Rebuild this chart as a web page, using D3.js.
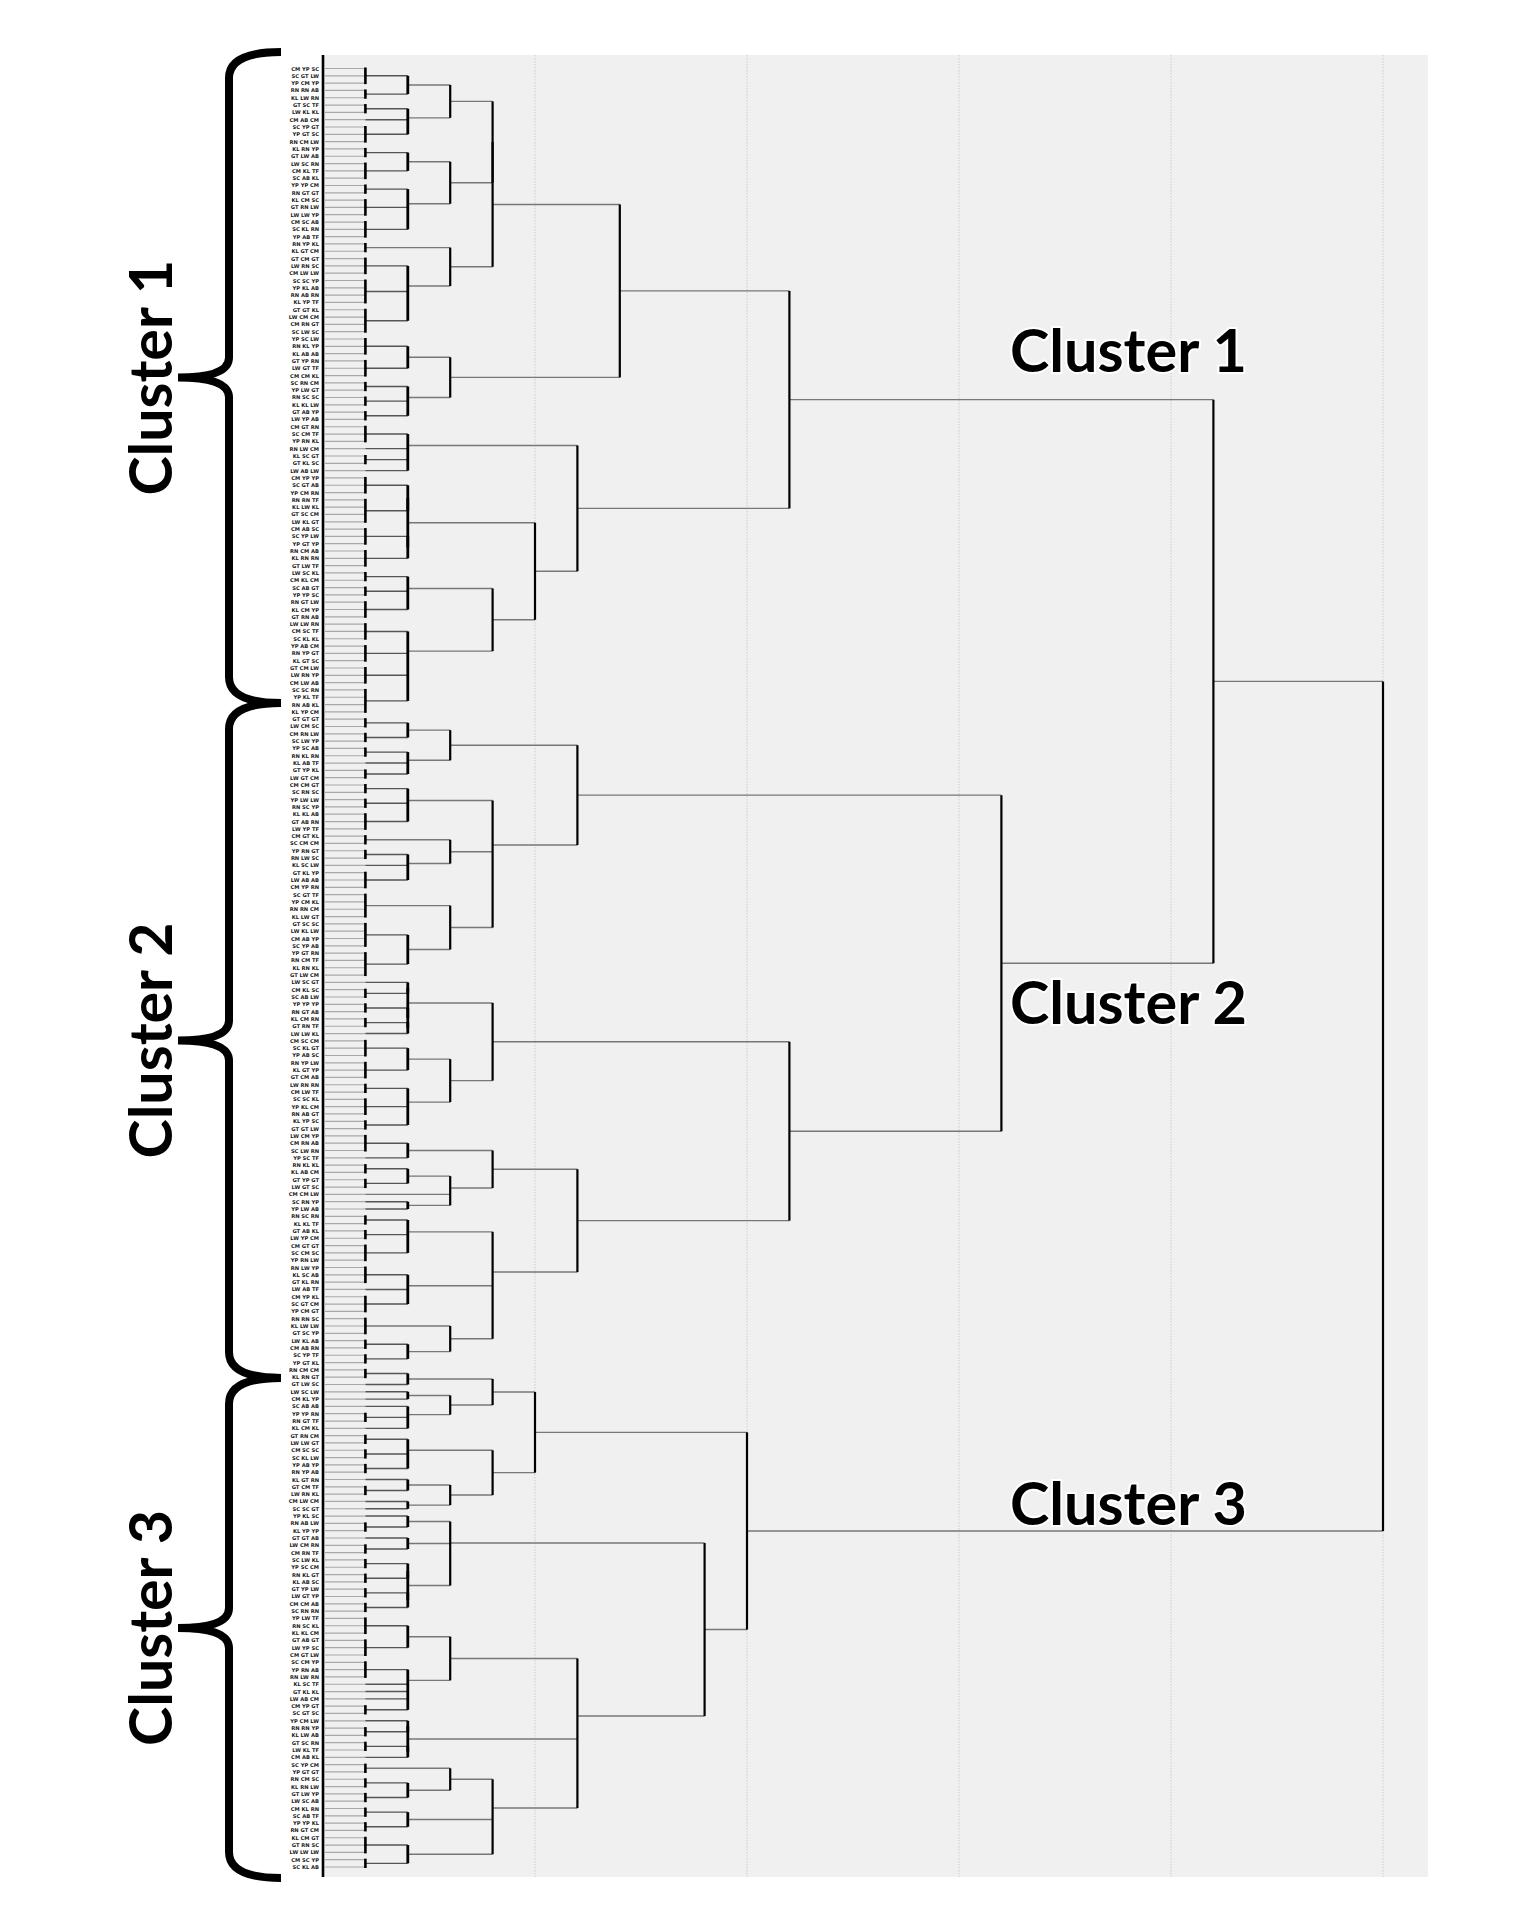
<!DOCTYPE html>
<html><head><meta charset="utf-8">
<script src="https://cdn.jsdelivr.net/npm/d3@7"></script>
<style>body{margin:0;background:#fff}</style>
</head><body>
<svg id="chart" width="1532" height="1932"></svg>
<script>
// ---------------- DATA ----------------
// Node format: [mergeHeight, child, child, ...]; a number = group of n near-identical leaves
const groupHeight = 0.2;
const cluster1 = [2.2,
  [1.4,
    [0.8,
      [0.8, [0.6, [0.4,3,2], [0.4,2,1,3]], [0.6, [0.4,2,3], [0.4,2,3,3]]],
      [0.6, 2, [0.4,3,4,4]]],
    [0.6, [0.4,3,3], [0.4,2,2,2]]],
  [1.2, [0.4,3,1,2,1],
    [1.0, [0.4,[0.4,3,4],[0.4,3,3]], [0.8, [0.4,2,2,3], [0.4,3,3,3,4]]]]];
const cluster2 = [3.2,
  [1.2, [0.6, [0.4,2,2], [0.4,2,1,2]],
        [0.8, [0.4,2,2,3], [0.6, 2, [0.4,2,1,3]], [0.6, 4, [0.4,4,4]]]],
  [2.2,
    [0.8, [0.4,[0.4,1,2],[0.4,2,[0.4,2,1]]], [0.6, [0.4,3,3], [0.4,2,3,2]]],
    [1.2, [0.8, [0.4,3,1], [0.6, [0.4,2,2], 1, [0.4,1,1]]],
          [0.8, [0.4,2,2,3], [0.4,3,1,3], [0.6, 3, [0.4,2,2]]]]]];
const cluster3 = [2.0,
  [1.0, [0.8, [0.4,2,1], [0.6, [0.4,1,1], [0.4,1,2,1]]],
        [0.8, [0.4,2,2,2], [0.6, [0.4,1,2], [0.4,1,1]]]],
  [1.8, [0.6, [0.4,1,2], [0.4,1,2], [0.4,[0.4,2,2],[0.4,2,2]]],
        [1.2, [0.6, [0.4,3,3], [0.4,3,1,1,1,2]],
              [0.4,[0.4,1,2],[0.4,2,1]],
              [0.8, [0.6, 2, [0.4,2,2]], [0.4,2,2], [0.4,3,2]]]]];
const topMerges = [4.2, 5.0];           // (cluster1+cluster2), then +cluster3
const clusterNames = ["Cluster 1", "Cluster 2", "Cluster 3"];
const axisTicks = [0, 1, 2, 3, 4, 5];
const bracketBounds = [-2.25, 86.8, 179.1, 247.5]; // leaf-index units
const labelTokens = ["CM","SC","YP","RN","KL","GT","LW","AB","TF"];

// ---------------- LAYOUT ----------------
const root = [topMerges[1], [topMerges[0], cluster1, cluster2], cluster3];
function count(n){ return typeof n === "number" ? n : n.slice(1).reduce((s,c)=>s+count(c),0); }
const nLeaves = count(root);

const svg = d3.select("#chart");
const x = d3.scaleLinear().domain([0,5]).range([323,1383]);
const y = d3.scaleLinear().domain([0,nLeaves-1]).range([68.5,1867]);

let leafCounter = 0;
const groups = [], nodes = [];
function layout(node){
  if (typeof node === "number"){
    const s = leafCounter; leafCounter += node; const e = leafCounter-1;
    const g = {h: node>1 ? groupHeight : 0, y:(y(s)+y(e))/2, y0:y(s), y1:y(e), n:node, leaf:true};
    if (node>1) groups.push(g);
    return g;
  }
  const kids = node.slice(1).map(layout);
  let yy = kids[kids.length-1].y;
  for (let i=kids.length-2;i>=0;i--) yy = (kids[i].y+yy)/2;
  const o = {h:node[0], y:yy, kids};
  nodes.push(o);
  return o;
}
const rootNode = layout(root);
const c12 = rootNode.kids[0];
const clusterNodes = [c12.kids[0], c12.kids[1], rootNode.kids[1]];

// ---------------- DRAW ----------------
// panel
svg.append("rect").attr("x",x(0)+1).attr("y",55).attr("width",1428-x(0)-1).attr("height",1877-55).attr("fill","#f0f0f0");
// gridlines
svg.append("g").selectAll("line").data(axisTicks.filter(d=>d>0)).join("line")
  .attr("x1",d=>x(d)).attr("x2",d=>x(d)).attr("y1",55).attr("y2",1877)
  .attr("stroke","#d4d4d4").attr("stroke-width",1.3).attr("stroke-dasharray","1.5,1.5");

// leaf lines
const leafIdx = d3.range(nLeaves);
svg.append("g").selectAll("line").data(leafIdx).join("line")
  .attr("x1",x(0)+2).attr("x2",x(groupHeight)).attr("y1",d=>y(d)).attr("y2",d=>y(d))
  .attr("stroke","#a8a8a8").attr("stroke-width",1.2);

// leaf labels
svg.append("g").selectAll("text").data(leafIdx).join("text")
  .attr("x",x(0)-4).attr("y",d=>y(d)+2).attr("text-anchor","end")
  .attr("font-family","DejaVu Sans").attr("font-weight","bold").attr("font-size",5.2).attr("fill","#222")
  .text(d=>labelTokens[d%7]+" "+labelTokens[(d*3+2)%8]+" "+labelTokens[(d*5+1)%9]);

// horizontals
const hSegs = [];
nodes.forEach(n=>n.kids.forEach(k=>{
  const x0 = x(Math.max(k.h, groupHeight));
  if (k.h < n.h) hSegs.push({x0, x1:x(n.h), y:k.y, low:n.h<=0.4});
}));
svg.append("g").selectAll("line").data(hSegs).join("line")
  .attr("x1",d=>d.x0).attr("x2",d=>d.x1).attr("y1",d=>d.y).attr("y2",d=>d.y)
  .attr("stroke",d=>d.low?"#555":"#777").attr("stroke-width",1.4);

// group verticals (dashed-looking line at groupHeight)
svg.append("g").selectAll("line").data(groups).join("line")
  .attr("x1",x(groupHeight)).attr("x2",x(groupHeight)).attr("y1",d=>d.y0-1).attr("y2",d=>d.y1+1)
  .attr("stroke","#000").attr("stroke-width",2.6);

// node verticals
svg.append("g").selectAll("line").data(nodes).join("line")
  .attr("x1",d=>x(d.h)).attr("x2",d=>x(d.h))
  .attr("y1",d=>d3.min(d.kids,k=>k.y)).attr("y2",d=>d3.max(d.kids,k=>k.y))
  .attr("stroke","#000").attr("stroke-width",d=>d.h<=0.4?2.8:2.2);

// axis line
svg.append("line").attr("x1",x(0)).attr("x2",x(0)).attr("y1",55).attr("y2",1877)
  .attr("stroke","#000").attr("stroke-width",2.6);

// brackets
const bx = 229, barm = 281, bcusp = 178;
for (let i=0;i<3;i++){
  const t = y(bracketBounds[i]), b = y(bracketBounds[i+1]), m = (t+b)/2;
  const p = d3.path();
  p.moveTo(barm, t); p.quadraticCurveTo(bx, t, bx, t+26);
  p.lineTo(bx, m-20); p.quadraticCurveTo(bx, m, bcusp, m);
  p.quadraticCurveTo(bx, m, bx, m+20);
  p.lineTo(bx, b-26); p.quadraticCurveTo(bx, b, barm, b);
  svg.append("path").attr("d",p.toString()).attr("fill","none").attr("stroke","#000")
    .attr("stroke-width",8).attr("stroke-linejoin","miter");
  const tl = svg.append("text").attr("transform",`translate(172,${m}) rotate(-90)`)
    .attr("text-anchor","middle").attr("font-family","Lato").attr("font-weight","bold")
    .attr("font-size",58).attr("fill","#000").text(clusterNames[i]);
  const w = tl.node().getComputedTextLength();
  tl.attr("font-size", 58*236/w);
}

// right-side cluster labels
const labelOffsets = [-28, 61, -6];
clusterNodes.forEach((cn,i)=>{
  const tl = svg.append("text").attr("x",1010).attr("y",cn.y+labelOffsets[i])
    .attr("font-family","Lato").attr("font-weight","bold").attr("font-size",58)
    .attr("fill","#000").attr("stroke","#fff").attr("stroke-width",4).attr("paint-order","stroke")
    .text(clusterNames[i]);
  const w = tl.node().getComputedTextLength();
  tl.attr("font-size", 58*237/w);
});
</script>
</body></html>
